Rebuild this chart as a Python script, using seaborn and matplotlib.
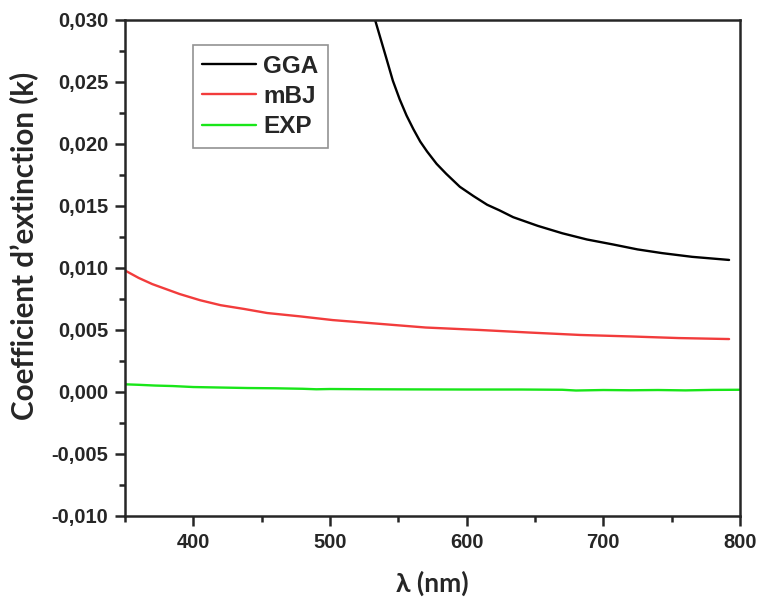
import numpy as np
import pandas as pd
import matplotlib.pyplot as plt
import seaborn as sns
from matplotlib.ticker import MultipleLocator, FuncFormatter

# values
wl_gga = [525, 530, 533, 537, 541, 546, 551, 556, 561, 566, 571, 578, 585, 595, 605, 615, 624, 634, 652, 670, 688, 707, 725, 743, 765, 792]
k_gga = [0.0345, 0.0318, 0.0300, 0.0285, 0.0270, 0.0251, 0.0236, 0.0223, 0.0212, 0.0202, 0.0194, 0.0184, 0.0176, 0.01655,
         0.0158, 0.0151, 0.01465, 0.0141, 0.0134, 0.0128, 0.0123, 0.0119, 0.0115, 0.0112, 0.0109, 0.01065]

wl_mbj = [350, 360, 370, 380, 390, 405, 420, 437, 454, 478, 502, 536, 570, 610, 645, 683, 720, 755, 792]
k_mbj = [0.0098, 0.0092, 0.0087, 0.0083, 0.0079, 0.0074, 0.0070, 0.0067, 0.00637, 0.0061, 0.0058, 0.0055, 0.0052,
         0.0050, 0.0048, 0.0046, 0.00448, 0.00435, 0.00427]

wl_exp = [350, 360, 372, 385, 400, 420, 440, 460, 480, 490, 500, 530, 560, 600, 640, 670, 680, 700, 720, 740, 760, 780, 800]
k_exp = [0.00062, 0.00058, 0.00052, 0.00048, 0.00040, 0.00036, 0.00032, 0.00030, 0.00026, 0.00022, 0.00024, 0.00022,
         0.00021, 0.00020, 0.00020, 0.00018, 0.00012, 0.00016, 0.00014, 0.00016, 0.00013, 0.00017, 0.00018]

labels = ["GGA", "mBJ", "EXP"]
colors = ["#000000", "#f23c3c", "#19e619"]

df = pd.concat([
    pd.DataFrame({"wl": wl_gga, "k": k_gga, "serie": "GGA"}),
    pd.DataFrame({"wl": wl_mbj, "k": k_mbj, "serie": "mBJ"}),
    pd.DataFrame({"wl": wl_exp, "k": k_exp, "serie": "EXP"}),
])

sns.set_style("ticks")
plt.rcParams['font.family'] = ['Liberation Sans', 'DejaVu Sans']
plt.rcParams['font.weight'] = 'bold'

fig = plt.figure(figsize=(7.61, 6.01), dpi=100)
ax = fig.add_axes([125/761, 1-516/601, 615/761, 496/601])

sns.lineplot(data=df, x="wl", y="k", hue="serie", hue_order=labels,
             palette=colors, linewidth=1.7, ax=ax, sort=False, estimator=None)

ax.set_xlim(350, 800)
ax.set_ylim(-0.010, 0.030)
ax.xaxis.set_major_locator(MultipleLocator(100))
ax.xaxis.set_minor_locator(MultipleLocator(50))
ax.yaxis.set_major_locator(MultipleLocator(0.005))
ax.yaxis.set_minor_locator(MultipleLocator(0.0025))
ax.yaxis.set_major_formatter(FuncFormatter(lambda v, p: f"{v:.3f}".replace(".", ",").replace("-0,000", "0,000")))
ax.xaxis.set_major_formatter(FuncFormatter(lambda v, p: "" if v == 350 else f"{v:.0f}"))

ax.tick_params(which='major', direction='out', length=7, width=1.8, labelsize=14.5, pad=5)
ax.tick_params(which='minor', direction='out', length=4, width=1.8)
for s in ax.spines.values():
    s.set_linewidth(1.8)

ax.set_xlabel("λ (nm)", fontsize=19, fontweight='bold', family=['Lato', 'DejaVu Sans'], labelpad=14)
ax.set_ylabel("Coefficient d’extinction (k)", fontsize=21.3, fontweight='bold', family=['Lato', 'DejaVu Sans'])
ax.yaxis.set_label_coords(-0.142, 0.544)

leg = ax.legend(loc='upper left', bbox_to_anchor=(0.11, 0.95), fontsize=17.5,
                frameon=True, fancybox=False, handlelength=2.2, handletextpad=0.3,
                labelspacing=0.3, borderpad=0.4, borderaxespad=0)
leg.get_frame().set_edgecolor('#777777')
leg.get_frame().set_linewidth(1.2)
for t in leg.get_texts():
    t.set_fontweight('bold')

fig.savefig("out.png", dpi=100)
